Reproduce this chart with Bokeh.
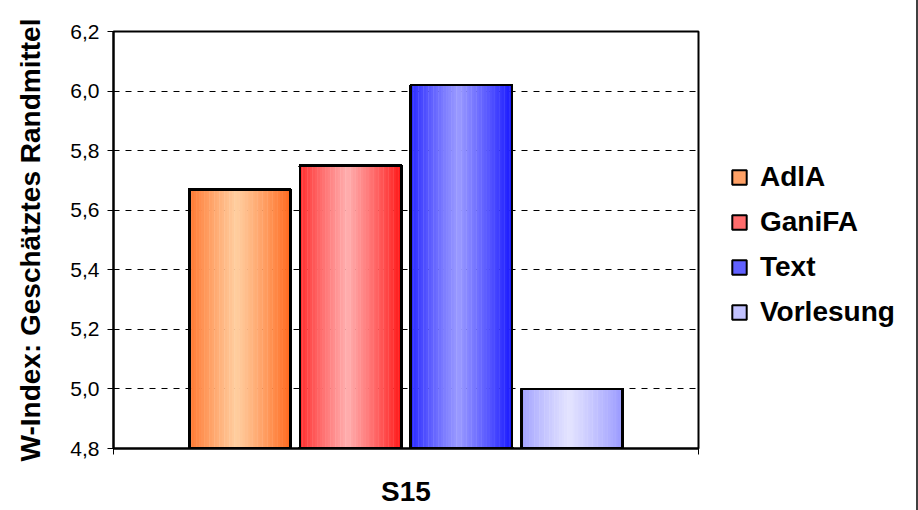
from bokeh.plotting import figure
from bokeh.models import FixedTicker, Legend, LegendItem, ColumnDataSource, Range1d
from bokeh.layouts import row
from bokeh.embed import file_html
from bokeh.resources import INLINE

# ---- data ----
categories = ["AdlA", "GaniFA", "Text", "Vorlesung"]
values = [5.67, 5.75, 6.02, 5.00]
group_label = "S15"
y_ticks = [4.8, 5.0, 5.2, 5.4, 5.6, 5.8, 6.0, 6.2]
y_tick_labels = ["4,8", "5,0", "5,2", "5,4", "5,6", "5,8", "6,0", "6,2"]
y_title = "W-Index: Geschätztes Randmittel"

# ---- style ----
edge_colors = [(255, 102, 26), (255, 20, 20), (20, 20, 255), (150, 150, 255)]
center_colors = [(255, 206, 160), (255, 175, 175), (155, 155, 255), (228, 228, 255)]
FONT = "Liberation Sans"
y_min, y_max = y_ticks[0], y_ticks[-1]
step = 0.1895
bar_w = 0.173
n_strips = 40

p = figure(width=700, height=510, x_range=Range1d(0, 1), y_range=Range1d(y_min, y_max),
           output_backend="svg", toolbar_location=None,
           min_border_left=113, min_border_right=2, min_border_top=31, min_border_bottom=62)
p.background_fill_color = "white"
p.border_fill_color = "white"
p.outline_line_color = "black"
p.outline_line_width = 2

p.xgrid.visible = False
p.ygrid.ticker = FixedTicker(ticks=y_ticks[1:-1], minor_ticks=[])
p.ygrid.grid_line_color = "black"
p.ygrid.grid_line_dash = "6 6"
p.ygrid.grid_line_width = 1

# y axis
ya = p.yaxis[0]
ya.ticker = FixedTicker(ticks=y_ticks, minor_ticks=[])
ya.major_label_overrides = {t: l for t, l in zip(y_ticks, y_tick_labels)}
ya.axis_line_color = "black"
ya.axis_line_width = 2
ya.major_tick_out = 6
ya.major_tick_in = 0
ya.major_tick_line_color = "black"
ya.major_label_text_font = FONT
ya.major_label_text_font_size = "21px"
ya.major_label_text_color = "black"
ya.major_label_standoff = 8
ya.axis_label = y_title
ya.axis_label_text_font = FONT
ya.axis_label_text_font_style = "bold"
ya.axis_label_text_font_size = "28px"
ya.axis_label_text_color = "black"
ya.axis_label_standoff = 21

# x axis
xa = p.xaxis[0]
xa.ticker = FixedTicker(ticks=[0.5], minor_ticks=[0, 1])
xa.major_label_overrides = {0.5: group_label}
xa.axis_line_color = "black"
xa.axis_line_width = 2
xa.major_tick_out = 0
xa.major_tick_in = 0
xa.minor_tick_out = 6
xa.minor_tick_in = 0
xa.minor_tick_line_color = "black"
xa.major_label_text_font = FONT
xa.major_label_text_font_style = "bold"
xa.major_label_text_font_size = "28px"
xa.major_label_text_color = "black"
xa.major_label_standoff = 21

# legend panel (separate figure to the right)
p2 = figure(width=218, height=510, x_range=Range1d(0, 1), y_range=Range1d(0, 1),
            output_backend="svg", toolbar_location=None,
            x_axis_location=None, y_axis_location=None,
            min_border_left=0, min_border_right=0, min_border_top=0, min_border_bottom=0,
            styles={"border-right": "2px solid #404040", "box-sizing": "border-box"})
p2.outline_line_color = None
p2.grid.visible = False
p2.background_fill_color = "white"
p2.border_fill_color = "white"


def mix(a, b, f):
    return "#%02x%02x%02x" % tuple(int(round(a[k] + (b[k] - a[k]) * f)) for k in range(3))


items = []
for i, (cat, val) in enumerate(zip(categories, values)):
    cx = 0.5 + (i - 1.5) * step
    xs, ws, cols = [], [], []
    for j in range(n_strips):
        t = (j + 0.5) / n_strips
        f = max(0.0, 1 - abs(t - 0.47) / 0.53) ** 0.85
        xs.append(cx - bar_w / 2 + bar_w * t)
        ws.append(bar_w / n_strips * 1.15)
        cols.append(mix(edge_colors[i], center_colors[i], f))
    src = ColumnDataSource(dict(x=xs, w=ws, color=cols, top=[val] * n_strips,
                                cx=[cx] * n_strips, bw=[bar_w] * n_strips))
    p.vbar(x="x", width="w", top="top", bottom=y_min, fill_color="color",
           line_color=None, source=src)
    p.vbar(x="cx", width="bw", top="top", bottom=y_min, fill_color=None,
           line_color="black", line_width=2, source=src)
    # same data in the legend panel, hidden, only used to draw the legend swatches
    r2 = p2.vbar(x="x", width="w", top="top", bottom=y_min, fill_color="color",
                 line_color=None, source=src, visible=False)
    o2 = p2.vbar(x="cx", width="bw", top="top", bottom=y_min, fill_color=None,
                 line_color="black", line_width=2, source=src, visible=False)
    items.append(LegendItem(label=cat, renderers=[r2, o2], index=n_strips // 5))

legend = Legend(items=items, location=(30, 120), margin=0, padding=0,
                glyph_width=18, glyph_height=18, label_standoff=12, spacing=13,
                border_line_color=None, background_fill_alpha=0,
                inactive_fill_alpha=0, click_policy="none",
                label_text_font=FONT, label_text_font_style="bold",
                label_text_font_size="28px", label_text_color="black")
p2.add_layout(legend)

open("out.html", "w").write(file_html(row(p, p2), INLINE))
